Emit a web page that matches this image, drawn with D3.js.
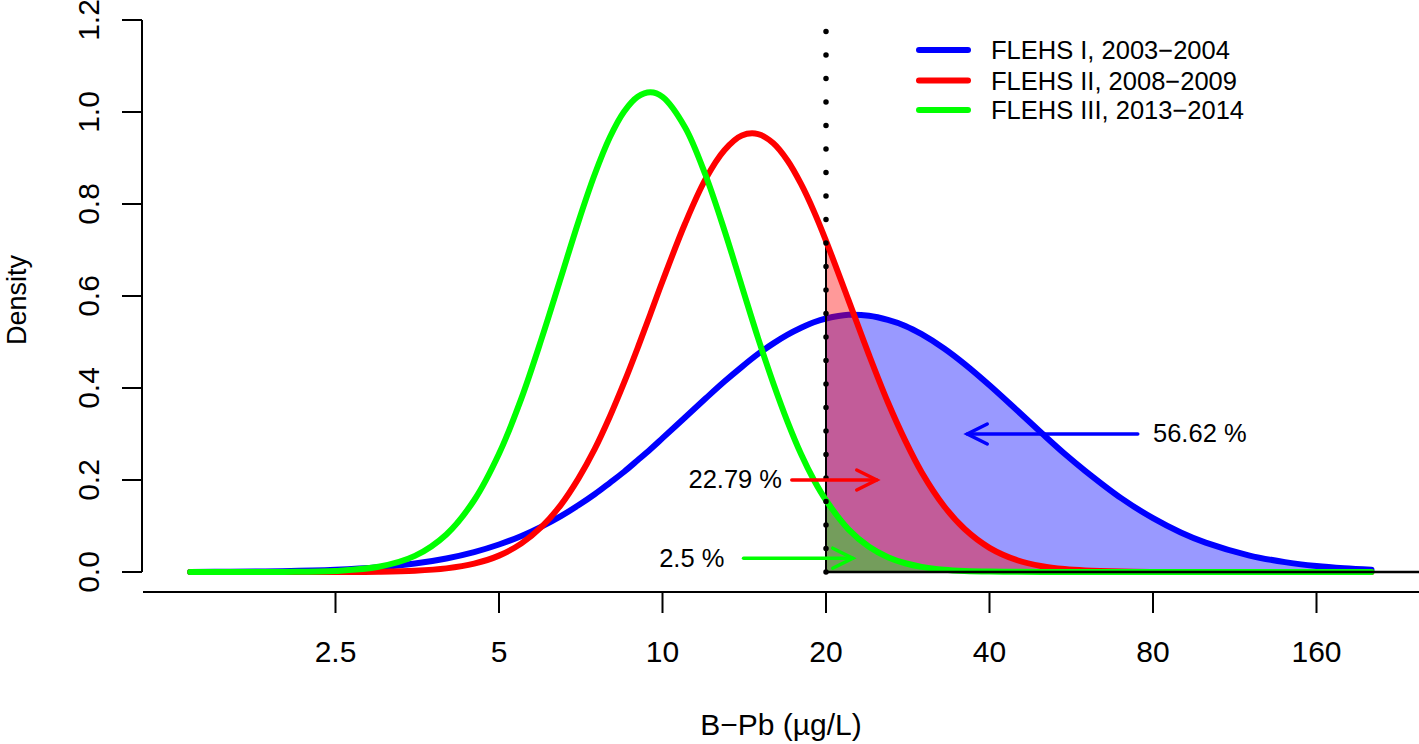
<!DOCTYPE html>
<html>
<head>
<meta charset="utf-8">
<script src="https://cdn.jsdelivr.net/npm/d3@7"></script>
<style>
  html, body { margin: 0; padding: 0; background: #fff; }
  svg { display: block; font-family: "Liberation Sans", Arial, Helvetica, sans-serif; }
</style>
</head>
<body>
<svg id="chart" width="1419" height="744"></svg>
<script>
// ---- data ----
const bpb = [1.35,1.6,2,2.5,3,3.5,4,4.5,5,5.5,6,6.5,7,7.5,8,8.5,9,9.5,10,11,12,13,14,15,16,17,18,19,20,22,24,26,28,30,33,36,40,45,50,55,60,70,80,90,100,120,140,160,180,202];
const flehs1 = [0.0002,0.0006,0.0017,0.0048,0.0102,0.0183,0.0294,0.0433,0.0598,0.0785,0.0993,0.1215,0.145,0.169,0.194,0.218,0.243,0.267,0.291,0.336,0.377,0.414,0.446,0.474,0.497,0.516,0.531,0.543,0.551,0.559,0.557,0.548,0.535,0.517,0.486,0.452,0.406,0.351,0.301,0.257,0.220,0.160,0.117,0.0859,0.0638,0.0363,0.0214,0.0130,0.0082,0.0050];
const flehs2 = [0,0,0.00001,0.00013,0.0007,0.0028,0.0079,0.0181,0.0356,0.0622,0.0990,0.146,0.203,0.267,0.338,0.412,0.487,0.561,0.632,0.757,0.854,0.917,0.949,0.952,0.932,0.894,0.843,0.784,0.720,0.591,0.472,0.369,0.285,0.217,0.143,0.0934,0.0526,0.0256,0.0126,0.0063,0.0032,0.0009,0.0002,0.0001,0,0,0,0,0,0];
const flehs3 = [0,0.00002,0.00026,0.0024,0.0113,0.035,0.0817,0.156,0.257,0.378,0.510,0.640,0.761,0.864,0.945,1.001,1.033,1.043,1.033,0.967,0.863,0.743,0.621,0.508,0.410,0.326,0.256,0.200,0.156,0.0928,0.0548,0.0323,0.0190,0.0112,0.0051,0.0024,0.0009,0.0003,0.0001,0,0,0,0,0,0,0,0,0,0,0];
const seriesNames = ["FLEHS I, 2003\u22122004", "FLEHS II, 2008\u22122009", "FLEHS III, 2013\u22122014"];
const seriesColors = ["#0000ff", "#ff0000", "#00ff00"];
const fillColors = ["rgba(0,0,255,0.4)", "rgba(255,0,0,0.4)", "rgba(0,255,0,0.4)"];
const xTicks = [2.5, 5, 10, 20, 40, 80, 160];
const xTickLabels = ["2.5", "5", "10", "20", "40", "80", "160"];
const yTicks = [0, 0.2, 0.4, 0.6, 0.8, 1.0, 1.2];
const yTickLabels = ["0.0", "0.2", "0.4", "0.6", "0.8", "1.0", "1.2"];
const threshold = 20;
const pctLabels = ["56.62 %", "22.79 %", "2.5 %"];
const arrowFrom = [75, 17.3, 14.1];
const arrowTo = [36.4, 24.8, 22.4];
const arrowY = [0.3, 0.2, 0.03];
const labelX = [80, 16.6, 13.0];
const labelAnchor = ["start", "end", "end"];

// ---- scales ----
const svg = d3.select("#chart");
const W = 1419, H = 744;
svg.append("rect").attr("width", W).attr("height", H).attr("fill", "#fff");

const x = d3.scaleLog().base(2).domain([2.5, 160]).range([335.5, 1316.5]);
const y = d3.scaleLinear().domain([0, 1.2]).range([572, 20]);

const series = [flehs1, flehs2, flehs3].map((vals, i) => ({
  name: seriesNames[i], color: seriesColors[i], fill: fillColors[i],
  pts: bpb.map((b, j) => ({ b: b, d: vals[j] }))
}));

const line = d3.line().x(p => x(p.b)).y(p => y(p.d)).curve(d3.curveCatmullRom.alpha(0.5));
const area = d3.area().x(p => x(p.b)).y0(y(0)).y1(p => y(p.d)).curve(d3.curveCatmullRom.alpha(0.5));

// ---- axes ----
const axisColor = "#000";
// y axis
svg.append("line").attr("x1", 142).attr("x2", 142).attr("y1", y(1.2)).attr("y2", y(0))
  .attr("stroke", axisColor).attr("stroke-width", 2);
yTicks.forEach((t, i) => {
  svg.append("line").attr("x1", 122).attr("x2", 142).attr("y1", y(t)).attr("y2", y(t))
    .attr("stroke", axisColor).attr("stroke-width", 2);
  svg.append("text").attr("transform", `translate(99,${y(t)}) rotate(-90)`)
    .attr("text-anchor", "middle").attr("font-size", 30).text(yTickLabels[i]);
});
svg.append("text").attr("transform", `translate(26,${(y(0) + y(1.2)) / 2 + 4}) rotate(-90)`)
  .attr("text-anchor", "middle").attr("font-size", 27).text("Density");

// x axis
svg.append("line").attr("x1", 143).attr("x2", W).attr("y1", 592).attr("y2", 592)
  .attr("stroke", axisColor).attr("stroke-width", 2);
xTicks.forEach((t, i) => {
  svg.append("line").attr("x1", x(t)).attr("x2", x(t)).attr("y1", 592).attr("y2", 613)
    .attr("stroke", axisColor).attr("stroke-width", 2);
  svg.append("text").attr("x", x(t)).attr("y", 662).attr("text-anchor", "middle")
    .attr("font-size", 30).text(xTickLabels[i]);
});
svg.append("text").attr("x", 781).attr("y", 735).attr("text-anchor", "middle")
  .attr("font-size", 30).text("B\u2212Pb (\u00b5g/L)");

// ---- tails, lines ----
series.forEach(s => {
  const tail = s.pts.filter(p => p.b >= threshold);
  svg.append("path").datum(tail).attr("d", area)
    .attr("fill", s.fill).attr("stroke", "#000").attr("stroke-width", 2);
  svg.append("path").datum(s.pts).attr("d", line)
    .attr("fill", "none").attr("stroke", s.color).attr("stroke-width", 6)
    .attr("stroke-linecap", "round").attr("stroke-linejoin", "round");
});
// baseline of the shaded polygons
svg.append("line").attr("x1", x(threshold)).attr("x2", W).attr("y1", y(0)).attr("y2", y(0))
  .attr("stroke", "#000").attr("stroke-width", 2.5);

// dotted threshold line
svg.append("line").attr("x1", x(threshold)).attr("x2", x(threshold))
  .attr("y1", y(0)).attr("y2", y(1.2))
  .attr("stroke", "#000").attr("stroke-width", 5.5)
  .attr("stroke-linecap", "round").attr("stroke-dasharray", "0 23.5");

// ---- annotations ----
pctLabels.forEach((lab, i) => {
  const c = seriesColors[i];
  const xa = x(arrowFrom[i]), xb = x(arrowTo[i]), ya = y(arrowY[i]);
  const dir = Math.sign(xb - xa);
  const hl = 20, hw = 10;
  const g = svg.append("g").attr("stroke", c).attr("stroke-width", 3.5)
    .attr("stroke-linecap", "round").attr("fill", "none");
  g.append("line").attr("x1", xa).attr("x2", xb).attr("y1", ya).attr("y2", ya);
  g.append("path").attr("d", `M${xb - dir * hl},${ya - hw} L${xb},${ya} L${xb - dir * hl},${ya + hw}`);
  svg.append("text").attr("x", x(labelX[i])).attr("y", ya).attr("dy", "0.33em")
    .attr("text-anchor", labelAnchor[i]).attr("font-size", 25.5).text(lab);
});

// ---- legend ----
const legY = [50, 80.5, 110];
series.forEach((s, i) => {
  svg.append("line").attr("x1", 919).attr("x2", 968).attr("y1", legY[i]).attr("y2", legY[i])
    .attr("stroke", s.color).attr("stroke-width", 6).attr("stroke-linecap", "round");
  svg.append("text").attr("x", 991).attr("y", legY[i]).attr("dy", "0.36em")
    .attr("font-size", 25.5).text(s.name);
});
</script>
</body>
</html>
